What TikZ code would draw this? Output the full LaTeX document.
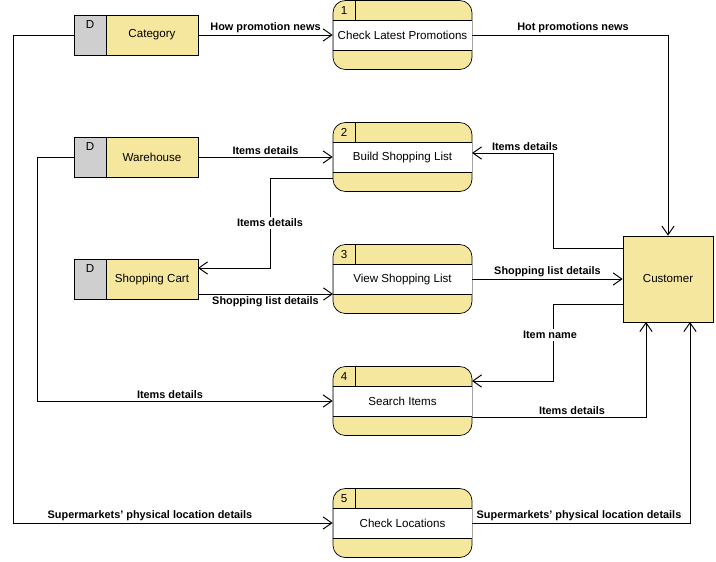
\documentclass[tikz,border=0pt]{standalone}
\usepackage{fontspec}
\setmainfont{Liberation Sans}
\usetikzlibrary{arrows.meta}
\definecolor{pyellow}{RGB}{245,232,158}
\definecolor{dgray}{RGB}{207,207,207}

\begin{document}
\begin{tikzpicture}[x=0.02cm, y=-0.02cm, every node/.style={font=\fontsize{6.6}{8}\selectfont}]

% Define styles
\tikzset{
  process/.style={draw, fill=pyellow, rounded corners=7pt, minimum width=139*0.02cm, minimum height=69*0.02cm, inner sep=0pt},
  store/.style={draw, fill=pyellow, minimum width=92*0.02cm, minimum height=40*0.02cm, inner sep=0pt},
  dtag/.style={draw, fill=dgray, minimum width=32*0.02cm, minimum height=40*0.02cm, inner sep=0pt},
  entity/.style={draw, fill=pyellow, minimum width=90*0.02cm, minimum height=86*0.02cm, inner sep=0pt},
  flow/.style={-{Straight Barb[length=5pt,width=7pt]}, line width=0.55pt},
  lbl/.style={font=\fontsize{6.2}{8}\selectfont\bfseries, inner sep=1pt}
}

\useasboundingbox (0,0) rectangle (716,561);

% Data stores
\foreach \nm/\txt/\y in {cat/Category/35, wh/Warehouse/157, cart/Shopping Cart/279} {
  \node[dtag] (\nm d) at (90,\y) {};
  \node[anchor=north] at (\nm d.north) {D};
  \node[store] (\nm) at (152,\y) {\txt};
}

% Processes
\foreach \nm/\num/\txt/\y in {p1/1/Check Latest Promotions/35, p2/2/Build Shopping List/157, p3/3/View Shopping List/279, p4/4/Search Items/401, p5/5/Check Locations/523} {
  \node[process] (\nm) at (402.5,\y) {};
  \fill[white] (333.5,\y-14.5) rectangle (471.5,\y+15.5);
  \draw (333,\y-14.5) -- (472,\y-14.5) (333,\y+15.5) -- (472,\y+15.5) (355,\y-34.5) -- (355,\y-14.5);
  \node at (344,\y-24.5) {\num};
  \node at (402.5,\y) {\txt};
}

% Customer
\node[entity] (cust) at (668,279) {Customer};
\coordinate (c1) at (646,322);
\coordinate (c2) at (690,322);

% Flows
\draw[flow] (catd.west) -- (13,35) |- (p5.west);
\node[lbl, above] at (150,523) {Supermarkets' physical location details};
\draw[flow] (cat.east) -- (p1.west) node[lbl, midway, above] {How promotion news};
\draw[flow] (p1.east) -| (cust.north);
\node[lbl, above] at (573,35) {Hot promotions news};
\draw[flow] (wh.east) -- (p2.west) node[lbl, midway, above] {Items details};
\draw[flow] (whd.west) -- (37,157) |- (p4.west);
\node[lbl, above] at (170,401) {Items details};
\draw[flow] (333,178) -- (270,178) -- (270,268) -- (198,268);
\node[lbl, fill=white] at (270,223) {Items details};
\draw[flow] (198,294) -- (333,294) node[lbl, midway, below] {Shopping list details};
\draw[flow] (p3.east) -- (cust.west) node[lbl, midway, above] {Shopping list details};
\draw[flow] (623,248) -- (553,248) -- (553,153) -- (472,153);
\node[lbl, above] at (525,153) {Items details};
\draw[flow] (623,304) -- (553,304) -- (553,381) -- (472,381);
\node[lbl, fill=white] at (550,335) {Item name};
\draw[flow] (472,417) -| (c1);
\node[lbl, above] at (572,417) {Items details};
\draw[flow] (p5.east) -| (c2);
\node[lbl, above] at (579,523) {Supermarkets' physical location details};

\end{tikzpicture}
\end{document}
